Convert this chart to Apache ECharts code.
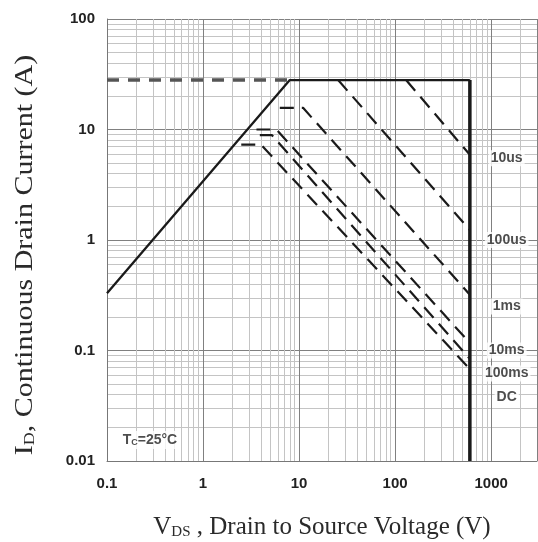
<!DOCTYPE html>
<html>
<head>
<meta charset="utf-8">
<script src="https://cdn.jsdelivr.net/npm/echarts@6/dist/echarts.min.js"></script>
<style>
  html, body { margin: 0; padding: 0; background: #fff; }
  #chart { width: 538px; height: 542px; }
</style>
</head>
<body>
<div id="chart"></div>
<script>
// tick labels
var xTicks = ['0.1', '1', '10', '100', '1000'];
var yTicks = ['0.01', '0.1', '1', '10', '100'];

// limit lines (VDS in V, ID in A)
var currentLimit = [[0.1, 28], [8, 28]];
var rdsLimit = [[0.1, 0.33], [8, 28], [600, 28]];
var voltageLimit = [[600, 28], [600, 0.01]];

// pulse curves
var p10us = [[130, 28], [600, 5.9]];
var p100us = [[25.5, 28], [600, 1.23]];
var p1ms = [[6.3, 15.7], [11, 15.7], [600, 0.32]];
var p10ms = [[3.6, 10], [5.8, 10], [600, 0.117]];
var p100ms = [[3.9, 8.9], [5.2, 8.9], [600, 0.084]];
var pDC = [[2.5, 7.3], [4.0, 7.3], [600, 0.068]];

// curve labels
var curveLabels = [
  [1450, 5.5, '10us'],
  [1450, 1.0, '100us'],
  [1450, 0.25, '1ms'],
  [1450, 0.1, '10ms'],
  [1450, 0.062, '100ms'],
  [1450, 0.038, 'DC']
];
var tcLabel = [[0.28, 0.0155, 'Tc=25°C']];

var chart = echarts.init(document.getElementById('chart'));

function pulse(data) {
  return {
    type: 'line',
    data: data,
    symbol: 'none',
    silent: true,
    lineStyle: { color: '#1a1a1a', width: 2.2, type: [14, 8] }
  };
}

var tickFmt = function (list) {
  return function (v) {
    for (var i = 0; i < list.length; i++) {
      if (Math.abs(Math.log10(v) - Math.log10(+list[i])) < 1e-6) return list[i];
    }
    return '';
  };
};

var option = {
  animation: false,
  grid: { left: 107, top: 19, right: 1, bottom: 81, outerBoundsMode: 'none' },
  xAxis: {
    type: 'log',
    logBase: 10,
    min: 0.1,
    max: 3000,
    axisLine: { show: true, lineStyle: { color: '#777' } },
    axisTick: { show: false },
    axisLabel: {
      formatter: tickFmt(xTicks),
      color: '#222', fontSize: 15, fontWeight: 'bold',
      fontFamily: 'Liberation Sans', margin: 15
    },
    splitLine: { show: true, lineStyle: { color: '#808080', width: 1 } },
    minorTick: { show: false, splitNumber: 9 },
    minorSplitLine: { show: true, lineStyle: { color: '#c4c4c4', width: 1 } },
    name: '{a|V}{s|DS}{a| , Drain to Source Voltage (V)}',
    nameLocation: 'middle',
    nameGap: 54,
    nameTextStyle: {
      rich: {
        a: { fontFamily: 'Liberation Serif', fontSize: 25, color: '#2a2a2a' },
        s: { fontFamily: 'Liberation Serif', fontSize: 15, color: '#2a2a2a', padding: [10, 0, 0, 0] }
      }
    }
  },
  yAxis: {
    type: 'log',
    logBase: 10,
    min: 0.01,
    max: 100,
    axisLine: { show: true, lineStyle: { color: '#777' } },
    axisTick: { show: false },
    axisLabel: {
      formatter: tickFmt(yTicks),
      color: '#222', fontSize: 15, fontWeight: 'bold',
      fontFamily: 'Liberation Sans', margin: 12
    },
    splitLine: { show: true, lineStyle: { color: '#808080', width: 1 } },
    minorTick: { show: false, splitNumber: 9 },
    minorSplitLine: { show: true, lineStyle: { color: '#c4c4c4', width: 1 } }
  },
  graphic: [{
    type: 'text',
    x: 25, y: 255,
    rotation: Math.PI / 2,
    scaleX: 1.2,
    style: {
      text: '{a|I}{s|D}{a|, Continuous Drain Current (A)}',
      align: 'center', verticalAlign: 'middle',
      rich: {
        a: { fontFamily: 'Liberation Serif', fontSize: 25, fill: '#2a2a2a' },
        s: { fontFamily: 'Liberation Serif', fontSize: 15, fill: '#2a2a2a', padding: [10, 0, 0, 0] }
      }
    }
  }],
  series: [
    {
      type: 'line', data: currentLimit, symbol: 'none', silent: true,
      lineStyle: { color: '#555', width: 3.5, type: [12, 9] }
    },
    {
      type: 'line', data: rdsLimit, symbol: 'none', silent: true,
      lineStyle: { color: '#1a1a1a', width: 2.3 }
    },
    {
      type: 'line', data: voltageLimit, symbol: 'none', silent: true,
      lineStyle: { color: '#1a1a1a', width: 3.5 }
    },
    pulse(p10us), pulse(p100us), pulse(p1ms),
    pulse(p10ms), pulse(p100ms), pulse(pDC),
    {
      type: 'scatter', data: curveLabels, symbolSize: 0, silent: true,
      label: {
        show: true, position: 'inside',
        formatter: function (p) { return p.value[2]; },
        color: '#222', fontSize: 14, fontWeight: 'bold',
        fontFamily: 'Liberation Sans',
        backgroundColor: '#fff', padding: [1, 2]
      }
    },
    {
      type: 'scatter', data: tcLabel, symbolSize: 0, silent: true,
      label: {
        show: true, position: 'inside',
        formatter: '{a|T}{s|C}{a|=25°C}',
        backgroundColor: '#fff', padding: [2, 3],
        rich: {
          a: { color: '#222', fontSize: 14, fontWeight: 'bold', fontFamily: 'Liberation Sans' },
          s: { color: '#222', fontSize: 9, fontWeight: 'bold', fontFamily: 'Liberation Sans', padding: [5, 0, 0, 0] }
        }
      }
    }
  ]
};
chart.setOption(option);
</script>
</body>
</html>
